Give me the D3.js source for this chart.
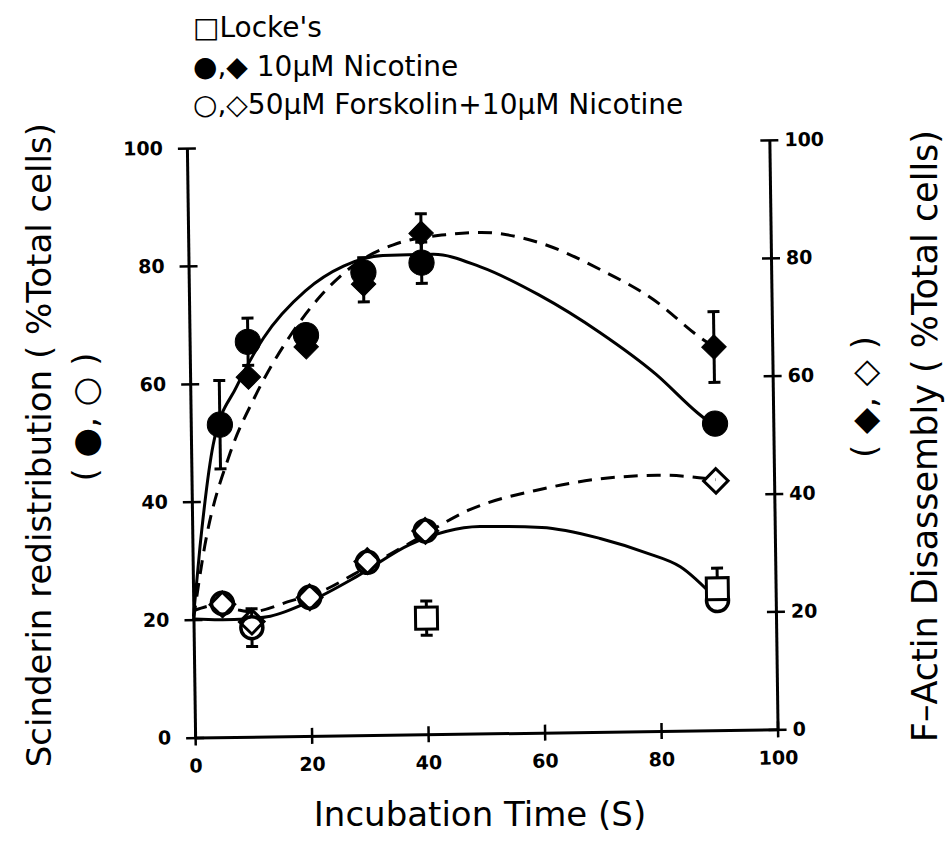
<!DOCTYPE html>
<html><head><meta charset="utf-8">
<script src="https://cdn.jsdelivr.net/npm/d3@7"></script>
<style>
html,body{margin:0;padding:0;background:#fff;}
svg{display:block;}
text{font-family:"DejaVu Sans",sans-serif;fill:#000;}
</style></head><body>
<svg id="chart" width="951" height="846"></svg>
<script>
// ---- data ----
const timeTicks = [0, 20, 40, 60, 80, 100];
const valueTicks = [0, 20, 40, 60, 80, 100];

// Scinderin redistribution, 10 uM nicotine (filled circles, left axis)
const nicTimes = [5, 10, 20, 30, 40, 90];
const scinderinNicotine = [53, 67, 68, 78.5, 80, 52];
const scinderinNicotineErr = [7.5, 4, 0, 2.5, 3.5, 0];

// F-actin disassembly, 10 uM nicotine (filled diamonds, right axis)
const actinNicTimes = [10, 20, 30, 40, 90];
const actinNicotine = [61, 66, 76.5, 85, 65];
const actinNicotineErr = [0, 0, 3, 3.3, 6];

// Scinderin redistribution, forskolin + nicotine (open circles, left axis)
const forskTimes = [5, 10, 20, 30, 40, 90];
const scinderinForsk = [22.7, 18.5, 23.5, 29.3, 34.5, 22];
const scinderinForskErr = [0, 3.2, 0, 0, 0, 0];

// F-actin disassembly, forskolin + nicotine (open diamonds, right axis)
const actinForskTimes = [5, 10, 20, 30, 40, 90];
const actinForsk = [22.5, 19.5, 23.5, 29.5, 34.5, 42.3];

// Locke's (open squares)
const lockeTimes = [40, 90];
const locke = [19.7, 24];
const lockeErr = [2.9, 3.5];

// fitted curves, points
const curveScinNic = [[0,20.5],[1.3,32.4],[3.8,49.6],[8,59.5],[12.7,67.6],[20,75.5],[26.6,79.6],[33.4,81.3],[42,81.4],[50,79.2],[60,74.3],[70.5,67.7],[80,60.5],[87,53.9],[90,51.5]];
const curveActinNic = [[0,20],[2.1,32.4],[6.7,48.2],[11.1,57.7],[17.2,67.8],[22.5,74.5],[28.9,80.1],[35.2,83.1],[44.2,84.7],[50,85],[60,83.2],[70.7,78.4],[79.7,73.2],[87.7,66.6],[90,65]];
const curveScinForsk = [[0,20.1],[5,19.9],[9,20],[13.2,20.4],[20,22.8],[28.1,26.9],[37.3,32.2],[49.4,35.1],[60,34.8],[70,32.8],[78,30.2],[83.7,27.8],[90,22]];
const curveActinForsk = [[0,21.5],[4,22.4],[7.4,21.6],[10,21.2],[16.6,22.9],[23.2,25],[27.6,27.3],[37.4,32.5],[47.7,38],[60,41.3],[70,42.9],[80,43.4],[90,42.5]];

// ---- drawing ----
const svg = d3.select('#chart');
const x = d3.scaleLinear().domain([0, 100]).range([191, 773.5]);
const yL = d3.scaleLinear().domain([0, 100]).range([733.5, 144]);
const yR = d3.scaleLinear().domain([0, 100]).range([733.5, 144]);

const g = svg.append('g').attr('transform', 'rotate(-0.8 480 440)');

function styleAxis(sel) {
  sel.attr('font-family', '"DejaVu Sans", sans-serif')
     .attr('font-size', 19).attr('font-weight', 'bold');
  sel.select('.domain').attr('stroke', '#000').attr('stroke-width', 3);
  sel.selectAll('.tick line').attr('stroke', '#000').attr('stroke-width', 2.5);
  sel.selectAll('.tick text').attr('fill', '#000');
}

const axL = g.append('g').attr('transform', `translate(${x(0)},0)`)
  .call(d3.axisLeft(yL).tickValues(valueTicks).tickSizeInner(9).tickSizeOuter(0).tickPadding(15).tickFormat(d3.format('d')));
styleAxis(axL);
axL.selectAll('.tick line').attr('x1', 9).attr('x2', -9);

const axR = g.append('g').attr('transform', `translate(${x(100)},0)`)
  .call(d3.axisRight(yR).tickValues(valueTicks).tickSizeInner(9).tickSizeOuter(0).tickPadding(6).tickFormat(d3.format('d')));
styleAxis(axR);
axR.selectAll('.tick line').attr('x1', -9).attr('x2', 9);

const axB = g.append('g').attr('transform', `translate(0,${yL(0)})`)
  .call(d3.axisBottom(x).tickValues(timeTicks).tickSizeInner(8).tickSizeOuter(0).tickFormat(d3.format('d')));
styleAxis(axB);
axB.selectAll('.tick line').attr('y1', -8).attr('y2', 8);
axB.selectAll('.tick text').attr('y', 35).attr('dy', 0);

// curves
const line = (ys) => d3.line().x(d => x(d[0])).y(d => ys(d[1])).curve(d3.curveMonotoneX);
const curves = [
  {pts: curveScinNic, ys: yL, dash: null},
  {pts: curveActinNic, ys: yR, dash: '14,9'},
  {pts: curveScinForsk, ys: yL, dash: null},
  {pts: curveActinForsk, ys: yR, dash: '14,9'}
];
g.append('g').selectAll('path').data(curves).join('path')
  .attr('d', d => line(d.ys)(d.pts))
  .attr('fill', 'none').attr('stroke', '#000').attr('stroke-width', 3)
  .attr('stroke-dasharray', d => d.dash);

// error bars
function errorBars(times, vals, errs, ys) {
  const data = times.map((t, i) => ({t, v: vals[i], e: errs[i]})).filter(d => d.e > 0);
  const eg = g.append('g').attr('stroke', '#000').attr('stroke-width', 3);
  data.forEach(d => {
    const cx = x(d.t), y1 = ys(d.v - d.e), y2 = ys(d.v + d.e);
    eg.append('line').attr('x1', cx).attr('x2', cx).attr('y1', y1).attr('y2', y2);
    eg.append('line').attr('x1', cx - 6).attr('x2', cx + 6).attr('y1', y1).attr('y2', y1);
    eg.append('line').attr('x1', cx - 6).attr('x2', cx + 6).attr('y1', y2).attr('y2', y2);
  });
}
errorBars(nicTimes, scinderinNicotine, scinderinNicotineErr, yL);
errorBars(actinNicTimes, actinNicotine, actinNicotineErr, yR);
errorBars(forskTimes, scinderinForsk, scinderinForskErr, yL);
errorBars(lockeTimes, locke, lockeErr, yL);

// markers
function markers(times, vals, ys, type, size, rot, fill, sw) {
  g.append('g').selectAll('path').data(times.map((t, i) => [t, vals[i]])).join('path')
    .attr('d', d3.symbol().type(type).size(size)())
    .attr('transform', d => `translate(${x(d[0])},${ys(d[1])}) rotate(${rot})`)
    .attr('fill', fill).attr('stroke', '#000').attr('stroke-width', sw);
}
markers(nicTimes, scinderinNicotine, yL, d3.symbolCircle, 500, 0, '#000', 1);
markers(actinNicTimes, actinNicotine, yR, d3.symbolSquare, 300, 45, '#000', 1);
markers(forskTimes, scinderinForsk, yL, d3.symbolCircle, 380, 0, '#fff', 3.5);
markers(actinForskTimes, actinForsk, yR, d3.symbolSquare, 300, 45, 'none', 3);
markers(lockeTimes, locke, yL, d3.symbolSquare, 480, 0, '#fff', 3);

// legend
const leg = svg.append('g').attr('font-size', 28);
leg.append('text').attr('x', 193).attr('y', 37).text("\u25A1Locke's");
leg.append('text').attr('x', 193).attr('y', 76).text("\u25CF,\u25C6 10\u03BCM Nicotine");
leg.append('text').attr('x', 193).attr('y', 114).text("\u25CB,\u25C750\u03BCM Forskolin+10\u03BCM Nicotine");

// axis titles
svg.append('text').attr('font-size', 34).attr('text-anchor', 'middle')
  .attr('x', 480).attr('y', 826).text('Incubation Time (S)');
svg.append('text').attr('font-size', 34).attr('text-anchor', 'end')
  .attr('transform', 'translate(51,123) rotate(-90)').text('Scinderin redistribution ( %Total cells)');
svg.append('text').attr('font-size', 34).attr('text-anchor', 'middle')
  .attr('transform', 'translate(97,417) rotate(-90)').text('( \u25CF, \u25CB )');
svg.append('text').attr('font-size', 35).attr('text-anchor', 'end')
  .attr('transform', 'translate(937,130) rotate(-90)').text('F\u2013Actin Disassembly ( %Total cells)');
svg.append('text').attr('font-size', 34).attr('text-anchor', 'middle')
  .attr('transform', 'translate(876,397) rotate(-90)').text('( \u25C6, \u25C7 )');
</script>
</body></html>
